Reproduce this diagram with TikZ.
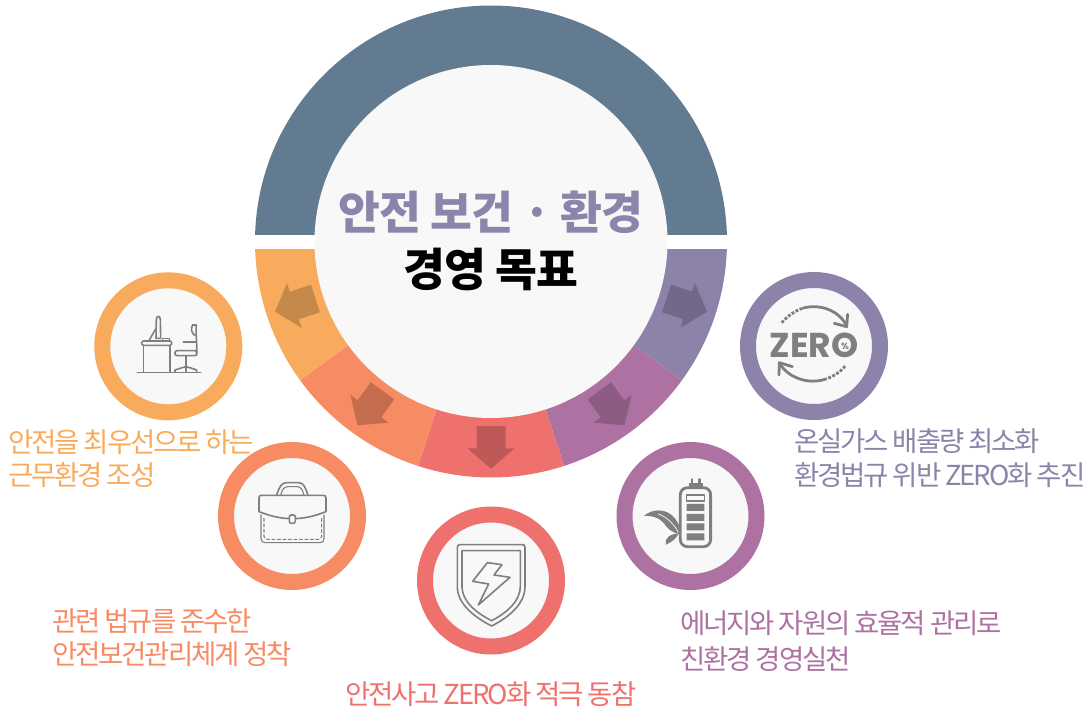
\documentclass[tikz,border=0pt]{standalone}
\usepackage{fontspec}
\newfontfamily\krlabel[LetterSpace=-7.8]{Noto Sans CJK KR}
\newfontfamily\krtitle[LetterSpace=-2]{Noto Sans CJK KR}
\newfontfamily\zerofont{Poppins}
\definecolor{cTop}{HTML}{637B90}
\definecolor{cOrange}{HTML}{F9AB5D}
\definecolor{cCoral}{HTML}{F78B63}
\definecolor{cRed}{HTML}{EF716E}
\definecolor{cPurple}{HTML}{AE72A2}
\definecolor{cIndigo}{HTML}{8D83AA}
\definecolor{aOrange}{HTML}{C58A4A}
\definecolor{aCoral}{HTML}{C46C4E}
\definecolor{aRed}{HTML}{BD5957}
\definecolor{aPurple}{HTML}{8D5C82}
\definecolor{aIndigo}{HTML}{726888}
\definecolor{cCore}{HTML}{F8F8F8}
\definecolor{cIcon}{HTML}{7F7F7F}
\definecolor{cTitle}{HTML}{8C84AB}
\tikzset{
  label text/.style={inner sep=0pt,anchor=base west,font=\krlabel\fontsize{27.5}{32}\selectfont},
  title text/.style={inner sep=0pt,anchor=base,font=\krtitle\bfseries\fontsize{45.5}{54}\selectfont},
  ring/.style={circle,draw=#1,line width=16pt,fill=cCore,minimum size=132pt,inner sep=0pt},
  ico/.style={draw=cIcon,line width=1.6pt,line join=round,line cap=round},
  icothin/.style={draw=cIcon,line width=1.1pt,line join=round,line cap=round},
  icoarc/.style={draw=cIcon,line width=2.8pt,line join=round,line cap=round},
  iconbox/.style={shift={(#1)},x=0.3333pt,y=-0.3333pt},
}
\newcommand{\bandwedge}[3]{\fill[#1] (491,241.5) -- ++(#2:236) arc[start angle=#2,end angle=#3,radius=236] -- cycle;}
\newcommand{\bandarrow}[2]{\fill[#1,rotate around={#2:(491,241.5)},shift={(491,241.5)}]
  (-14.5,184.5) -- (14.5,184.5) -- (14.5,206.8) -- (23.5,206.8) -- (0,227.2) -- (-23.5,206.8) -- (-14.5,206.8) -- cycle;}
\begin{document}
\begin{tikzpicture}[x=1pt,y=-1pt]
\useasboundingbox (0,0) rectangle (1088,712);
% upper band
\begin{scope}
\clip (200,0) rectangle (800,234);
\fill[cTop] (491,241.5) circle[radius=236];
\end{scope}
% lower band
\begin{scope}
\clip (200,249) rectangle (800,500);
\bandwedge{cIndigo}{-3}{36}
\bandwedge{cPurple}{36}{72}
\bandwedge{cRed}{72}{108}
\bandwedge{cCoral}{108}{144}
\bandwedge{cOrange}{144}{183}
\end{scope}
\bandarrow{aIndigo}{72}
\bandarrow{aPurple}{36}
\bandarrow{aRed}{0}
\bandarrow{aCoral}{-36}
\bandarrow{aOrange}{-72}
\node[circle,fill=cCore,minimum size=353pt,inner sep=0pt] (core) at (491,241.5) {};
\node[title text,text=cTitle] (t1) at (491,229) {안전 보건 · 환경};
\node[title text,text=black] (t2) at (491,286) {경영 목표};
% rings
\node[ring=cOrange] (r1) at (168.3,346.3) {};
\node[ring=cCoral] (r2) at (292,516) {};
\node[ring=cRed] (r3) at (491,580.5) {};
\node[ring=cPurple] (r4) at (690.5,516) {};
\node[ring=cIndigo] (r5) at (814,346) {};
% desk icon
\begin{scope}[iconbox={90,270}]
\draw[ico] (142,308) -- (332,308);
\draw[ico,rounded corners=1.5pt] (155,213) rectangle (245,226);
\draw[ico] (160,226) -- (160,306) (240,226) -- (240,306);
\draw[ico] (198,205) -- (199,148) .. controls (200,136) and (210,136) .. (211,148) -- (212,205) -- cycle;
\draw[ico] (198,175) -- (177,212);
\draw[ico] (218,205) rectangle (238,212);
\draw[ico] (308,165) -- (319,165) .. controls (316,190) and (322,215) .. (320,255);
\draw[ico] (308,165) .. controls (302,175) and (304,190) .. (315,196);
\draw[ico] (280,216) -- (319,216);
\draw[ico,rounded corners=2pt] (255,242) rectangle (320,257);
\draw[ico] (288,257) -- (288,304);
\draw[ico] (255,306) -- (255,300) .. controls (268,296) and (278,292) .. (288,290) .. controls (298,292) and (308,296) .. (320,300) -- (320,306);
\end{scope}
% briefcase icon
\begin{scope}[iconbox={90,270}]
\draw[ico] (507,684) .. controls (507,678) and (510,676) .. (515,676) -- (700,676) .. controls (705,676) and (708,678) .. (708,684) -- (708,725) .. controls (670,740) and (640,746) .. (607,746) .. controls (575,746) and (545,740) .. (507,725) -- cycle;
\draw[icothin] (513,735) -- (513,805) .. controls (513,814) and (518,818) .. (525,818) -- (690,818) .. controls (698,818) and (702,814) .. (702,805) -- (702,735);
\draw[icothin,dash pattern=on 3pt off 2.5pt] (522,745) -- (522,798) .. controls (522,804) and (525,808) .. (532,808) -- (685,808) .. controls (691,808) and (695,804) .. (695,798) -- (695,745);
\draw[ico,fill=cCore,rounded corners=2pt] (598,735) rectangle (616,760);
\draw[ico] (560,676) .. controls (568,650) and (575,638) .. (590,638) -- (625,638) .. controls (640,638) and (646,650) .. (654,676);
\draw[icothin] (572,676) .. controls (576,658) and (582,650) .. (595,650) -- (620,650) .. controls (632,650) and (638,658) .. (642,676);
\end{scope}
% shield icon
\begin{scope}[iconbox={410,440}]
\draw[ico] (142,322) .. controls (142,316) and (146,314) .. (150,314) -- (337,314) .. controls (342,314) and (345,316) .. (345,322) -- (345,440) .. controls (345,490) and (300,530) .. (245,558) .. controls (190,530) and (142,490) .. (142,440) -- cycle;
\draw[ico] (156,332) -- (331,332) -- (331,440) .. controls (331,482) and (292,518) .. (245,542) .. controls (196,518) and (156,482) .. (156,440) -- cycle;
\draw[ico] (232,368) -- (276,374) -- (252,405) -- (300,412) -- (205,495) -- (236,432) -- (188,424) -- cycle;
\end{scope}
% battery and leaf icon
\begin{scope}[iconbox={410,440}]
\draw[ico,line width=2.4pt] (846,118) -- (846,130) (868,118) -- (868,130);
\fill[cIcon] (836,129) rectangle (880,143);
\draw[ico,line width=2.8pt,rounded corners=7pt] (811,143) rectangle (902,320);
\draw[icothin] (830,165) rectangle (883,183);
\fill[cIcon] (830,192) rectangle (883,213) (830,222) rectangle (883,243) (830,250) rectangle (883,271) (830,280) rectangle (883,301);
\fill[cIcon] (702,228) .. controls (722,208) and (770,200) .. (797,238) .. controls (810,255) and (812,270) .. (808,282) .. controls (785,278) and (772,265) .. (762,250) .. controls (750,234) and (725,226) .. (702,228) -- cycle;
\draw[draw=cCore,line width=0.7pt] (745,222) .. controls (770,230) and (795,255) .. (805,278);
\fill[cIcon] (768,314) .. controls (762,295) and (780,282) .. (806,280) .. controls (800,296) and (785,306) .. (768,314) -- cycle;
\end{scope}
% ZERO icon
\node[inner sep=0pt,text=cIcon,font=\zerofont\bfseries\fontsize{34.5}{40}\selectfont] (zero) at (814,345.5) {ZERO};
\node[inner sep=0pt,text=cIcon,font=\zerofont\bfseries\fontsize{9}{10}\selectfont] (pct) at (845,346) {\%};
\begin{scope}[iconbox={735,270}]
\draw[icoarc,dash pattern=on 3pt off 1.5pt,line cap=butt] (140,158) .. controls (158,138) and (180,122) .. (205,114);
\draw[icoarc] (205,114) .. controls (260,100) and (315,125) .. (335,168);
\draw[icoarc] (298,160) -- (335,170) -- (338,133);
\draw[icoarc,dash pattern=on 3pt off 1.5pt,line cap=butt] (330,288) .. controls (318,305) and (295,320) .. (270,328);
\draw[icoarc] (270,328) .. controls (215,345) and (158,320) .. (135,282);
\draw[icoarc] (172,290) -- (133,278) -- (132,315);
\end{scope}
% labels
\node[label text,text=cOrange] (l1a) at (8,452) {안전을 최우선으로 하는};
\node[label text,text=cOrange] (l1b) at (8,485) {근무환경 조성};
\node[label text,text=cCoral] (l2a) at (52,631) {관련 법규를 준수한};
\node[label text,text=cCoral] (l2b) at (52,664) {안전보건관리체계 정착};
\node[label text,text=cRed] (l3) at (345,704) {안전사고 ZERO화 적극 동참};
\node[label text,text=cPurple] (l4a) at (680,633) {에너지와 자원의 효율적 관리로};
\node[label text,text=cPurple] (l4b) at (680,669) {친환경 경영실천};
\node[label text,text=cIndigo] (l5a) at (794,451) {온실가스 배출량 최소화};
\node[label text,text=cIndigo] (l5b) at (794,485) {환경법규 위반 ZERO화 추진};
\end{tikzpicture}
\end{document}
